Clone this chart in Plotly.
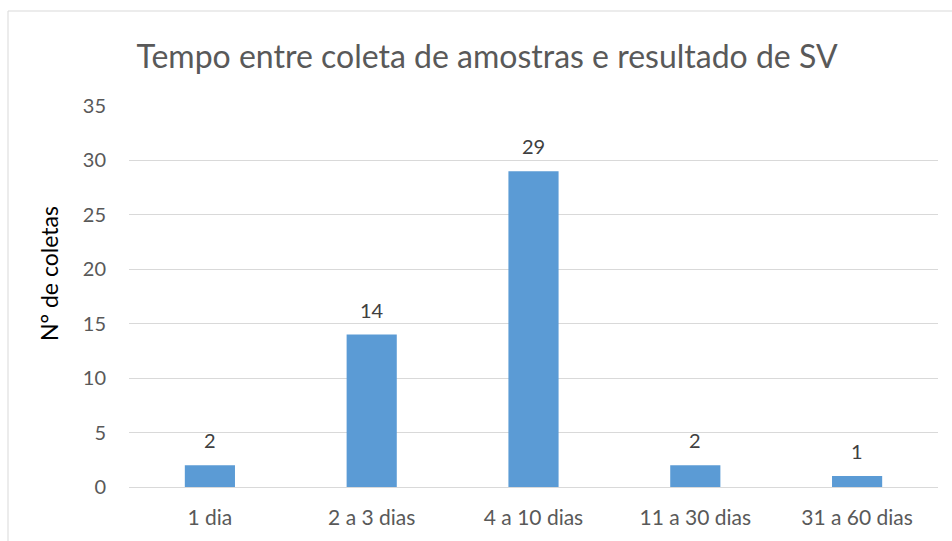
import plotly.graph_objects as go

categories = ["1 dia", "2 a 3 dias", "4 a 10 dias", "11 a 30 dias", "31 a 60 dias"]
values = [2, 14, 29, 2, 1]
y_ticks = [0, 5, 10, 15, 20, 25, 30, 35]

W, H = 952, 541
ML, MR, MT, MB = 129, 14, 106, 54
PW, PH = W - ML - MR, H - MT - MB

FONT = "Lato"
TXT = "#595959"

fig = go.Figure()
fig.add_trace(go.Bar(
    x=categories, y=values, width=0.31,
    marker=dict(color="#5B9BD5", line=dict(width=0)),
))

for c, v in zip(categories, values):
    fig.add_annotation(x=c, y=v, text=str(v), showarrow=False,
                       yanchor="middle", yshift=25,
                       font=dict(family=FONT, size=20, color="#404040"))

fig.add_annotation(xref="paper", yref="paper",
                   x=(49 - ML) / PW, y=(H - MB - 274) / PH,
                   xanchor="center", yanchor="middle", textangle=-90,
                   text="N° de coletas", showarrow=False,
                   font=dict(family=FONT, size=23, color="black"))

fig.update_layout(
    width=W, height=H,
    margin=dict(l=ML, r=MR, t=MT, b=MB),
    paper_bgcolor="white", plot_bgcolor="white",
    showlegend=False,
    font=dict(family=FONT, color=TXT),
    title=dict(text="Tempo entre coleta de amostras e resultado de SV",
               x=487 / W, xanchor="center", y=1 - 57 / H, yanchor="middle",
               font=dict(family=FONT, size=32, color=TXT)),
    xaxis=dict(showgrid=False, showline=False, ticks="", ticklabelstandoff=16,
               tickfont=dict(family=FONT, size=21, color=TXT)),
    yaxis=dict(range=[0, 35], tickvals=y_ticks, showgrid=True, gridcolor="#D9D9D9",
               gridwidth=1, zeroline=True, zerolinecolor="#D9D9D9", zerolinewidth=1,
               ticks="", ticklabelstandoff=22,
               tickfont=dict(family=FONT, size=20, color=TXT)),
)

fig.add_shape(type="rect", xref="paper", yref="paper",
              x0=(8 - ML) / PW, x1=(960 - ML) / PW,
              y0=(H - MB - 560) / PH, y1=(H - MB - 11) / PH,
              line=dict(color="#D9D9D9", width=1), layer="below")

fig.write_html("out.html")
